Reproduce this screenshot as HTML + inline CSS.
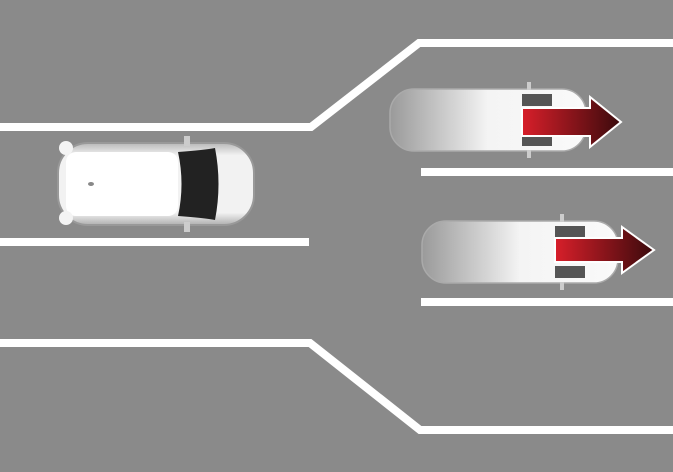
<!DOCTYPE html>
<html><head><style>html,body{margin:0;padding:0;background:#8a8a8a;}svg{display:block}</style></head>
<body>
<svg width="673" height="472" viewBox="0 0 673 472" xmlns="http://www.w3.org/2000/svg">
<defs>
<linearGradient id="ar" x1="0" x2="1" y1="0" y2="0"><stop offset="0" stop-color="#d81f2a"/><stop offset="1" stop-color="#3a0a0c"/></linearGradient>
<linearGradient id="blur" x1="0" x2="1"><stop offset="0" stop-color="#9a9a9a"/><stop offset="0.35" stop-color="#d8d8d8"/><stop offset="0.5" stop-color="#f4f4f4"/><stop offset="1" stop-color="#fafafa"/></linearGradient>
<linearGradient id="body" x1="0" y1="0" x2="0" y2="1"><stop offset="0" stop-color="#b8b8b8"/><stop offset="0.15" stop-color="#f2f2f2"/><stop offset="0.85" stop-color="#f2f2f2"/><stop offset="1" stop-color="#b0b0b0"/></linearGradient>
</defs>
<rect width="673" height="472" fill="#8a8a8a"/>
<g fill="none" stroke="#fff" stroke-width="8">
<polyline points="0,127 311,127 419,43 673,43"/>
<line x1="0" y1="242" x2="309" y2="242"/>
<line x1="421" y1="172" x2="673" y2="172"/>
<line x1="421" y1="302" x2="673" y2="302"/>
<polyline points="0,343 310,343 420,430 673,430"/>
</g>
<!-- left car -->
<rect x="58" y="143" width="196" height="82" rx="30" fill="url(#body)" stroke="#999" stroke-width="2"/>
<rect x="66" y="152" width="112" height="64" rx="10" fill="#fff"/>
<path d="M178,152 Q205,150 215,148 Q222,184 215,220 Q205,218 178,216 Q185,184 178,152Z" fill="#222"/>
<rect x="184" y="136" width="6" height="10" fill="#ccc"/><rect x="184" y="222" width="6" height="10" fill="#ccc"/>
<circle cx="66" cy="148" r="7" fill="#f4f4f4"/><circle cx="66" cy="218" r="7" fill="#f4f4f4"/>
<ellipse cx="91" cy="184" rx="3" ry="2" fill="#888"/>
<!-- right car 1 -->
<rect x="390" y="89" width="196" height="62" rx="24" fill="url(#blur)" stroke="#aaa" stroke-width="1.5"/>
<rect x="522" y="94" width="30" height="12" fill="#555"/><rect x="522" y="134" width="30" height="12" fill="#555"/>
<rect x="527" y="82" width="4" height="8" fill="#ccc"/><rect x="527" y="150" width="4" height="8" fill="#ccc"/>
<polygon points="522,108 590,108 590,97 621,122 590,147 590,136 522,136" fill="url(#ar)" stroke="#fff" stroke-width="2"/>
<!-- right car 2 -->
<rect x="422" y="221" width="196" height="62" rx="24" fill="url(#blur)" stroke="#aaa" stroke-width="1.5"/>
<rect x="555" y="226" width="30" height="12" fill="#555"/><rect x="555" y="266" width="30" height="12" fill="#555"/>
<rect x="560" y="214" width="4" height="8" fill="#ccc"/><rect x="560" y="282" width="4" height="8" fill="#ccc"/>
<polygon points="555,238 622,238 622,227 654,250 622,273 622,262 555,262" fill="url(#ar)" stroke="#fff" stroke-width="2"/>
</svg>
</body></html>
